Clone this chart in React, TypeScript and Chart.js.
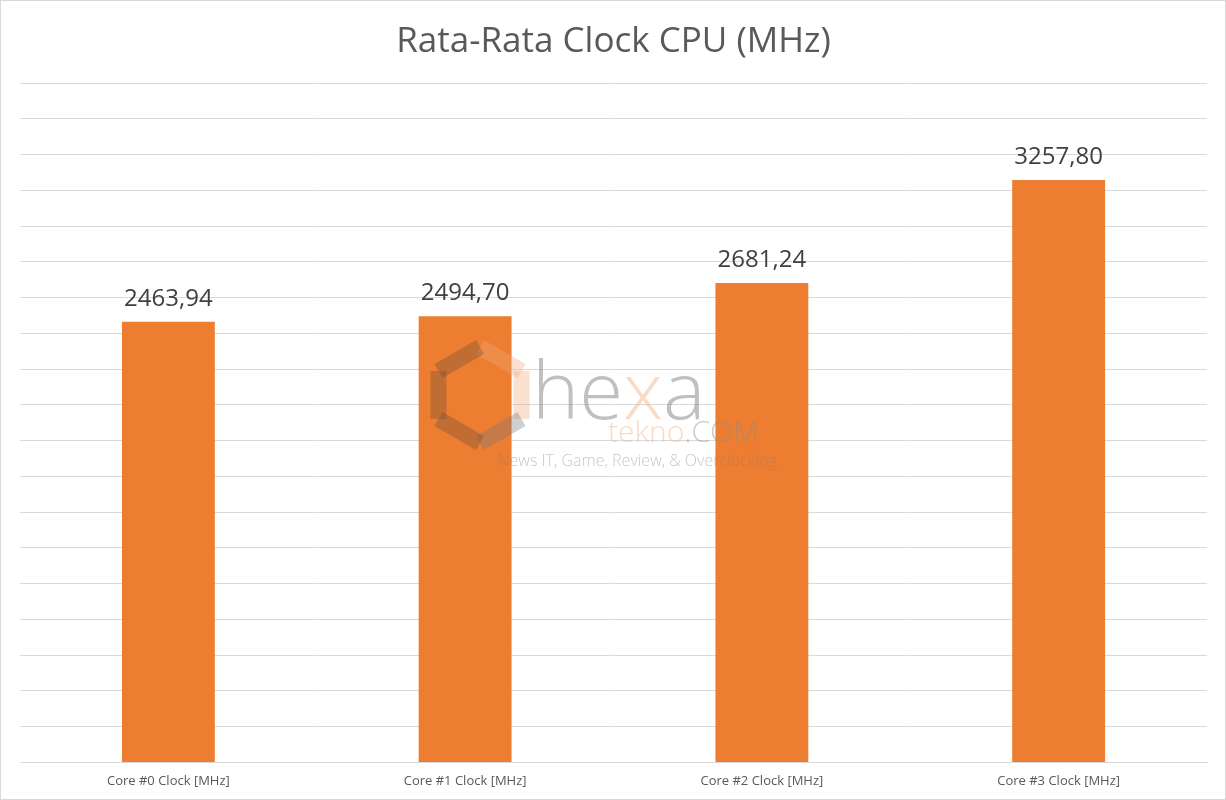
import React, { useEffect, useRef } from "react";
import { Chart, registerables } from "chart.js";

Chart.register(...registerables);

const categories = ["Core #0 Clock [MHz]", "Core #1 Clock [MHz]", "Core #2 Clock [MHz]", "Core #3 Clock [MHz]"];
const clockValues = [2463.94, 2494.7, 2681.24, 3257.8];
const titleText = "Rata-Rata Clock CPU (MHz)";
const yMax = 3800;
const yStep = 200;

const FONT = "'Open Sans', 'Noto Sans', sans-serif";

const fmt = (v: number) => v.toFixed(2).replace(".", ",");

const borderPlugin = {
  id: "outerBorder",
  beforeDraw(chart: any) {
    const { ctx, width, height } = chart;
    ctx.save();
    ctx.fillStyle = "#ffffff";
    ctx.fillRect(0, 0, width, height);
    ctx.strokeStyle = "#D9D9D9";
    ctx.lineWidth = 1;
    ctx.strokeRect(0.5, 0.5, width - 1, height - 1);
    ctx.restore();
  },
};

const labelPlugin = {
  id: "valueLabels",
  afterDatasetsDraw(chart: any) {
    const { ctx } = chart;
    const meta = chart.getDatasetMeta(0);
    ctx.save();
    ctx.font = `24px ${FONT}`;
    ctx.fillStyle = "#404040";
    ctx.textAlign = "center";
    ctx.textBaseline = "middle";
    meta.data.forEach((bar: any, i: number) => {
      ctx.fillText(fmt(clockValues[i]), bar.x, bar.y - 23);
    });
    ctx.restore();
  },
};

const watermarkPlugin = {
  id: "watermark",
  afterDatasetsDraw(chart: any) {
    const { ctx } = chart;
    ctx.save();
    const cx = 480, cy = 395, r = 48;
    const pts: [number, number][] = [];
    for (let k = 0; k < 6; k++) {
      const a = (Math.PI / 3) * k - Math.PI / 2;
      pts.push([cx + r * Math.cos(a), cy + r * Math.sin(a)]);
    }
    ctx.lineWidth = 16;
    ctx.lineJoin = "round";
    const seg = (i: number, j: number, color: string) => {
      ctx.strokeStyle = color;
      ctx.beginPath();
      ctx.moveTo(pts[i][0], pts[i][1]);
      ctx.lineTo(pts[j][0], pts[j][1]);
      ctx.stroke();
    };
    seg(0, 1, "rgba(240,170,120,0.35)");
    seg(1, 2, "rgba(240,170,120,0.35)");
    seg(2, 3, "rgba(120,120,120,0.35)");
    seg(3, 4, "rgba(110,80,60,0.35)");
    seg(4, 5, "rgba(110,80,60,0.35)");
    seg(5, 0, "rgba(110,80,60,0.35)");
    ctx.textBaseline = "alphabetic";
    ctx.textAlign = "left";
    ctx.font = `300 80px ${FONT}`;
    ctx.fillStyle = "rgba(140,140,140,0.55)";
    ctx.fillText("he", 532, 419);
    const wHe = ctx.measureText("he").width;
    ctx.fillStyle = "rgba(245,190,150,0.55)";
    ctx.fillText("x", 532 + wHe, 419);
    const wX = ctx.measureText("x").width;
    ctx.fillStyle = "rgba(140,140,140,0.55)";
    ctx.fillText("a", 532 + wHe + wX, 419);
    ctx.font = `300 30px ${FONT}`;
    ctx.fillStyle = "rgba(245,170,120,0.45)";
    ctx.fillText("tekno", 608, 442);
    const wT = ctx.measureText("tekno").width;
    ctx.fillStyle = "rgba(140,140,140,0.45)";
    ctx.fillText(".COM", 608 + wT, 442);
    ctx.font = `300 16px ${FONT}`;
    ctx.fillStyle = "rgba(130,130,130,0.45)";
    ctx.fillText("News IT, Game, Review, & Overclocking", 498, 466);
    ctx.restore();
  },
};

export default function App() {
  const canvasRef = useRef<HTMLCanvasElement | null>(null);

  useEffect(() => {
    document.body.style.margin = "0";
    const canvas = canvasRef.current;
    if (!canvas) return;
    const chart = new Chart(canvas, {
      type: "bar",
      data: {
        labels: categories,
        datasets: [
          {
            data: clockValues,
            backgroundColor: "#ED7D31",
            borderWidth: 0,
            categoryPercentage: 1,
            barPercentage: 0.313,
          },
        ],
      },
      options: {
        animation: false,
        responsive: false,
        maintainAspectRatio: false,
        layout: { padding: { left: 20, right: 19, top: 0, bottom: 0 } },
        plugins: {
          legend: { display: false },
          tooltip: { enabled: false },
          title: {
            display: true,
            text: titleText,
            color: "#595959",
            font: { family: FONT, size: 35, weight: "normal" as any, lineHeight: 1.2 },
            padding: { top: 21, bottom: 20 },
          },
        },
        scales: {
          x: {
            grid: { display: false, drawTicks: false },
            border: { display: true, color: "#D9D9D9", width: 1 },
            ticks: {
              color: "#595959",
              font: { family: FONT, size: 13 },
              padding: 11,
              maxRotation: 0,
            },
          },
          y: {
            min: 0,
            max: yMax,
            ticks: { display: false, stepSize: yStep },
            grid: { color: "#D9D9D9", lineWidth: 1, drawTicks: false },
            border: { display: false },
          },
        },
      },
      plugins: [borderPlugin, watermarkPlugin, labelPlugin],
    });
    return () => chart.destroy();
  }, []);

  return (
    <div style={{ width: 1226, height: 800 }}>
      <canvas ref={canvasRef} width={1226} height={800} style={{ display: "block" }} />
    </div>
  );
}
